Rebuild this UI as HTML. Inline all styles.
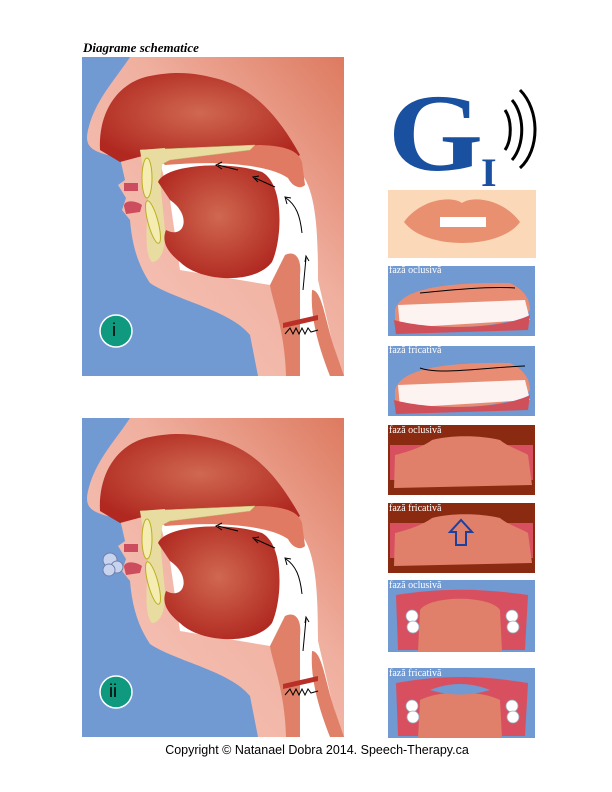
<!DOCTYPE html>
<html><head><meta charset="utf-8"><style>
body{margin:0;background:#fff;width:612px;height:792px;overflow:hidden;position:relative;font-family:"Liberation Sans",sans-serif}
.t{position:absolute;font-family:"Liberation Serif",serif;color:#fff;font-size:10px}
</style></head><body>
<svg width="612" height="792" style="position:absolute;left:0;top:0">
<defs>
<linearGradient id="skin" x1="0" y1="1" x2="1" y2="0"><stop offset="0" stop-color="#f7c8bc"/><stop offset="0.6" stop-color="#f0b0a0"/><stop offset="1" stop-color="#dd7a60"/></linearGradient>
<radialGradient id="red" cx="0.5" cy="0.45" r="0.6"><stop offset="0" stop-color="#d06850"/><stop offset="1" stop-color="#b02820"/></radialGradient>
<g id="head">
<rect x="82" y="57" width="262" height="319" fill="url(#skin)"/>
<path d="M82,57 L130,57 C115,80 95,100 88,130 C84,148 92,152 120,158 L125,180 L118,185 L126,198 L122,210 L130,220 C132,245 138,265 150,283 C175,300 230,310 250,335 L258,376 L82,376 Z" fill="#7199d2"/>
<path d="M100,150 C98,112 118,82 150,76 C180,70 200,74 222,80 C252,90 275,110 300,155 L290,162 L240,156 L150,154 L120,162 Z" fill="url(#red)"/>
<path d="M160,162 C220,152 275,152 300,172 C316,190 318,230 318,280 L340,376 L300,376 L298,285 L270,285 L180,270 L170,200 Z" fill="#fff"/>
<path d="M150,150 L260,145 C285,146 298,150 302,162 L305,185 C300,190 292,186 288,178 C270,165 220,160 165,165 Z" fill="#e07a62"/>
<path d="M140,150 L255,145 L250,150 L170,160 L150,170 Z" fill="#e8dca0" stroke="#c8c070" stroke-width="0.5"/>
<path d="M140,150 L165,148 L160,180 L165,230 C166,250 160,262 152,262 C145,255 146,235 148,200 Z" fill="#e8dca0"/>
<ellipse cx="147" cy="178" rx="5" ry="20" fill="#f4ecb0" stroke="#b8b020" stroke-width="1"/>
<ellipse cx="153" cy="222" rx="5" ry="22" fill="#f4ecb0" stroke="#b8b020" stroke-width="1" transform="rotate(-15 153 222)"/>
<path d="M124,183 L138,183 L138,191 L124,191 Z" fill="#cc4e5e"/>
<path d="M124,206 C124,200 135,200 142,205 L140,212 L126,214 Z" fill="#cc4e5e"/>
<path d="M158,182 C165,165 225,160 262,172 C285,185 282,240 272,262 C255,285 200,282 180,262 C165,250 162,240 166,230 C185,240 192,215 170,200 Z" fill="url(#red)"/>
<path d="M285,255 C295,250 302,258 300,275 L300,376 L286,376 C285,330 272,300 270,285 Z" fill="#e08068"/>
<path d="M312,290 C322,290 325,320 335,350 L344,376 L330,376 C320,350 310,320 312,290 Z" fill="#e08068"/>
<path d="M283,323 L318,315 L318,320 L283,328 Z" fill="#b83028"/>
<polyline points="285,334 290,328 293,334 296,328 299,334 302,328 305,334 308,328 311,332 318,330" fill="none" stroke="#000" stroke-width="1"/>
<g stroke="#000" stroke-width="1" fill="none">
<path d="M303,290 L306,258"/><path d="M305,262 L306,256 L309,261"/>
<path d="M302,233 C300,215 296,205 286,198"/><path d="M287,204 L285,197 L291,198"/>
<path d="M275,187 L255,178"/><path d="M258,182 L253,177 L259,176"/>
<path d="M238,170 L218,165"/><path d="M222,169 L216,165 L222,162"/>
</g>
</g>
<g id="teeth" fill="#fff" stroke="#9ab" stroke-width="0.8"><circle cx="0" cy="0" r="6"/><circle cx="1" cy="11" r="6"/></g>
</defs>
<use href="#head"/>
<use href="#head" y="361"/>
<g transform="translate(95 540)"><circle cx="15" cy="20" r="7" fill="#c8d4ee" stroke="#7080b0"/><circle cx="22" cy="27" r="6" fill="#c8d4ee" stroke="#7080b0"/><circle cx="14" cy="30" r="6" fill="#c8d4ee" stroke="#7080b0"/></g>
<circle cx="116" cy="331" r="16" fill="#0f9a80" stroke="#fff" stroke-width="1.5"/>
<circle cx="116" cy="692" r="16" fill="#0f9a80" stroke="#fff" stroke-width="1.5"/>
<text x="388" y="170" font-family="Liberation Serif,serif" font-size="110" font-weight="bold" fill="#1a50a0" textLength="95" lengthAdjust="spacingAndGlyphs">G</text>
<text x="481" y="186" font-family="Liberation Serif,serif" font-size="40" font-weight="bold" fill="#1a50a0">I</text>
<g fill="none" stroke="#000" stroke-width="3"><path d="M505,110 C512,120 512,140 505,150"/><path d="M512,100 C525,115 525,145 512,160"/><path d="M520,90 C540,110 540,150 520,168"/></g>
<rect x="388" y="190" width="148" height="68" fill="#fbd8b8"/>
<path d="M404,222 C420,200 450,195 462,203 C474,195 504,200 520,222 C500,250 425,250 404,222 Z" fill="#e89070"/>
<rect x="440" y="217" width="46" height="10" fill="#fff"/>
<rect x="388" y="266" width="147" height="70" fill="#7199d2"/>
<path d="M395,310 C400,290 440,282 510,283 C525,290 530,300 530,310 C520,330 410,332 395,320 Z" fill="#e88c74"/>
<path d="M398,305 L525,300 L530,320 L400,328 Z" fill="#fff" opacity="0.9"/>
<path d="M394,320 C430,330 500,330 530,315 L528,330 L396,334 Z" fill="#d0505a"/>
<path d="M420,293 C450,290 490,286 515,288" stroke="#000" fill="none"/>
<rect x="388" y="346" width="147" height="70" fill="#7199d2"/>
<path d="M395,390 C400,370 440,362 510,363 C525,370 530,380 530,390 C520,410 410,412 395,400 Z" fill="#e88c74"/>
<path d="M398,385 L525,380 L530,400 L400,408 Z" fill="#fff" opacity="0.9"/>
<path d="M394,400 C430,410 500,410 530,395 L528,410 L396,414 Z" fill="#d0505a"/>
<path d="M420,368 C440,375 480,368 525,366" stroke="#000" fill="none"/>
<rect x="388" y="425" width="147" height="70" fill="#8a2a10"/>
<path d="M390,445 L533,445 L533,480 L390,480 Z" fill="#d85060"/>
<path d="M395,455 C415,450 425,445 432,440 C450,435 480,435 500,440 C510,448 520,450 528,455 L532,485 L394,488 Z" fill="#e0806a"/>
<rect x="388" y="503" width="147" height="70" fill="#8a2a10"/>
<path d="M390,523 L533,523 L533,558 L390,558 Z" fill="#d85060"/>
<path d="M395,533 C415,528 425,523 432,518 C450,513 480,513 500,518 C510,526 520,528 528,533 L532,563 L394,566 Z" fill="#e0806a"/>
<path d="M456,545 L466,545 L466,532 L472,532 L461,520 L450,532 L456,532 Z" fill="none" stroke="#1a40a0" stroke-width="2"/>
<rect x="388" y="580" width="147" height="72" fill="#7199d2"/>
<path d="M396,595 C440,588 480,588 528,595 L525,650 L398,650 Z" fill="#d85060"/>
<use href="#teeth" x="412" y="616"/><use href="#teeth" x="512" y="616"/>
<path d="M420,610 C430,595 490,595 500,610 L502,652 L418,652 Z" fill="#e0806a"/>
<rect x="388" y="668" width="147" height="70" fill="#7199d2"/>
<path d="M396,683 C440,675 480,675 528,683 L525,736 L398,736 Z" fill="#d85060"/>
<use href="#teeth" x="412" y="706"/><use href="#teeth" x="512" y="706"/>
<path d="M420,700 C440,690 480,690 500,700 L502,738 L418,738 Z" fill="#e0806a"/>
<path d="M430,690 C450,682 470,682 490,690 C470,696 450,696 430,690 Z" fill="#7199d2"/>
</svg>
<div style="position:absolute;left:83px;top:40px;font-family:'Liberation Serif',serif;font-style:italic;font-weight:bold;font-size:13px">Diagrame schematice</div>
<div style="position:absolute;left:112px;top:320px;font-size:18px;color:#000">i</div>
<div style="position:absolute;left:109px;top:681px;font-size:18px;color:#000">ii</div>
<div class="t" style="left:389px;top:265px">fază oclusivă</div>
<div class="t" style="left:389px;top:345px">fază fricativă</div>
<div class="t" style="left:389px;top:425px">fază oclusivă</div>
<div class="t" style="left:389px;top:503px">fază fricativă</div>
<div class="t" style="left:389px;top:580px">fază oclusivă</div>
<div class="t" style="left:389px;top:668px">fază fricativă</div>
<div style="position:absolute;left:0;width:634px;text-align:center;top:743px;font-size:12.5px">Copyright © Natanael Dobra 2014.  Speech-Therapy.ca</div>
</body></html>
